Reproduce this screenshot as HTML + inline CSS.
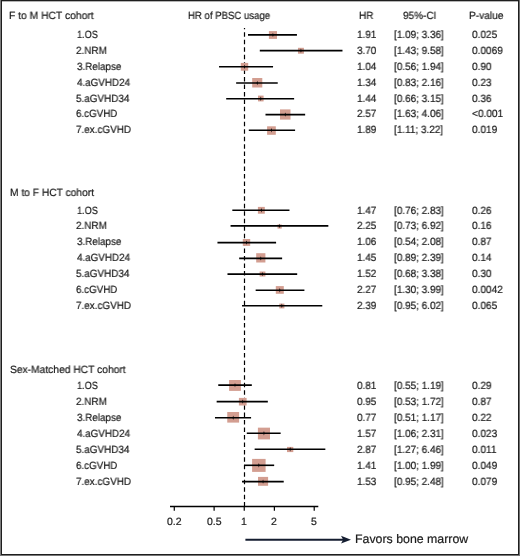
<!DOCTYPE html><html><head><meta charset="utf-8"><style>
html,body{margin:0;padding:0;background:#fff;}
body{width:520px;height:556px;position:relative;overflow:hidden;font-family:"Liberation Sans",sans-serif;}
.t{position:absolute;font-size:10.5px;line-height:30px;height:30px;white-space:pre;color:#1a1a1a;transform-origin:0 0;text-rendering:geometricPrecision;will-change:transform;-webkit-text-stroke:0.2px #1a1a1a;}
.f{position:absolute;}
</style></head><body>
<div class="f" style="left:0;top:0;width:1px;height:556px;background:#7c7c7c"></div>
<div class="f" style="left:519px;top:0;width:1px;height:556px;background:#707070"></div>
<div class="f" style="left:0;top:555px;width:520px;height:1px;background:#777"></div>
<div class="f" style="left:1px;top:0;width:516px;height:553px;border:1px solid #1e1e1e;"></div>
<div class="f" style="left:2px;top:1px;width:516px;height:1px;background:#b4b4b4"></div>
<svg class="f" style="left:0;top:0" width="520" height="556" viewBox="0 0 520 556"><line x1="244.5" y1="28" x2="244.5" y2="506.4" stroke="#000" stroke-width="1.2" stroke-dasharray="4.5 2.957" stroke-dashoffset="3.16"/><rect x="268.90" y="31.10" width="8.10" height="7.80" fill="#d39e91"/><line x1="248.00" y1="34.90" x2="296.94" y2="34.90" stroke="#000" stroke-width="1.6"/><path d="M272.95 32.70L273.60 34.90L272.95 37.10L272.30 34.90Z" fill="#000"/><rect x="297.96" y="47.80" width="5.94" height="5.90" fill="#d39e91"/><line x1="259.80" y1="50.65" x2="342.48" y2="50.65" stroke="#000" stroke-width="1.6"/><path d="M300.93 48.45L301.58 50.65L300.93 52.85L300.28 50.65Z" fill="#000"/><rect x="240.80" y="62.90" width="7.40" height="7.80" fill="#d39e91"/><line x1="219.04" y1="66.80" x2="273.06" y2="66.80" stroke="#000" stroke-width="1.6"/><path d="M244.50 64.60L245.15 66.80L244.50 69.00L243.85 66.80Z" fill="#000"/><rect x="252.20" y="78.00" width="10.10" height="9.50" fill="#d39e91"/><line x1="236.15" y1="83.00" x2="277.73" y2="83.00" stroke="#000" stroke-width="1.6"/><path d="M257.25 80.80L257.90 83.00L257.25 85.20L256.60 83.00Z" fill="#000"/><rect x="258.00" y="95.60" width="5.60" height="5.80" fill="#d39e91"/><line x1="226.19" y1="98.80" x2="294.13" y2="98.80" stroke="#000" stroke-width="1.6"/><path d="M260.80 96.60L261.45 98.80L260.80 101.00L260.15 98.80Z" fill="#000"/><rect x="280.00" y="109.40" width="10.50" height="10.20" fill="#d39e91"/><line x1="265.49" y1="114.60" x2="305.16" y2="114.60" stroke="#000" stroke-width="1.6"/><path d="M285.25 112.40L285.90 114.60L285.25 116.80L284.60 114.60Z" fill="#000"/><rect x="267.10" y="126.30" width="8.70" height="8.50" fill="#d39e91"/><line x1="248.79" y1="130.30" x2="295.09" y2="130.30" stroke="#000" stroke-width="1.6"/><path d="M271.45 128.10L272.10 130.30L271.45 132.50L270.80 130.30Z" fill="#000"/><rect x="257.90" y="206.90" width="6.90" height="6.80" fill="#d39e91"/><line x1="232.32" y1="210.20" x2="289.47" y2="210.20" stroke="#000" stroke-width="1.6"/><path d="M261.35 208.00L262.00 210.20L261.35 212.40L260.70 210.20Z" fill="#000"/><rect x="277.50" y="224.50" width="4.20" height="4.10" fill="#d39e91"/><line x1="230.57" y1="225.90" x2="328.34" y2="225.90" stroke="#000" stroke-width="1.6"/><path d="M279.60 223.70L280.25 225.90L279.60 228.10L278.95 225.90Z" fill="#000"/><rect x="242.80" y="239.00" width="7.40" height="6.90" fill="#d39e91"/><line x1="217.46" y1="242.60" x2="276.09" y2="242.60" stroke="#000" stroke-width="1.6"/><path d="M246.50 240.40L247.15 242.60L246.50 244.80L245.85 242.60Z" fill="#000"/><rect x="256.20" y="253.20" width="9.20" height="9.30" fill="#d39e91"/><line x1="239.18" y1="258.40" x2="282.13" y2="258.40" stroke="#000" stroke-width="1.6"/><path d="M260.80 256.20L261.45 258.40L260.80 260.60L260.15 258.40Z" fill="#000"/><rect x="259.60" y="271.50" width="5.80" height="5.00" fill="#d39e91"/><line x1="227.48" y1="274.10" x2="297.19" y2="274.10" stroke="#000" stroke-width="1.6"/><path d="M262.50 271.90L263.15 274.10L262.50 276.30L261.85 274.10Z" fill="#000"/><rect x="275.80" y="286.10" width="8.00" height="7.70" fill="#d39e91"/><line x1="255.66" y1="290.20" x2="304.41" y2="290.20" stroke="#000" stroke-width="1.6"/><path d="M279.80 288.00L280.45 290.20L279.80 292.40L279.15 290.20Z" fill="#000"/><rect x="279.30" y="303.60" width="5.10" height="4.80" fill="#d39e91"/><line x1="242.02" y1="305.80" x2="322.29" y2="305.80" stroke="#000" stroke-width="1.6"/><path d="M281.85 303.60L282.50 305.80L281.85 308.00L281.20 305.80Z" fill="#000"/><rect x="229.10" y="380.00" width="11.80" height="10.90" fill="#d39e91"/><line x1="218.26" y1="385.15" x2="251.81" y2="385.15" stroke="#000" stroke-width="1.6"/><path d="M235.00 382.95L235.65 385.15L235.00 387.35L234.35 385.15Z" fill="#000"/><rect x="238.90" y="397.90" width="7.70" height="7.60" fill="#d39e91"/><line x1="216.65" y1="401.60" x2="267.83" y2="401.60" stroke="#000" stroke-width="1.6"/><path d="M242.75 399.40L243.40 401.60L242.75 403.80L242.10 401.60Z" fill="#000"/><rect x="227.25" y="412.00" width="11.85" height="10.60" fill="#d39e91"/><line x1="214.98" y1="417.80" x2="251.08" y2="417.80" stroke="#000" stroke-width="1.6"/><path d="M233.18 415.60L233.83 417.80L233.18 420.00L232.53 417.80Z" fill="#000"/><rect x="257.90" y="427.65" width="12.10" height="11.75" fill="#d39e91"/><line x1="246.78" y1="433.30" x2="280.65" y2="433.30" stroke="#000" stroke-width="1.6"/><path d="M263.95 431.10L264.60 433.30L263.95 435.50L263.30 433.30Z" fill="#000"/><rect x="287.00" y="446.90" width="6.30" height="5.20" fill="#d39e91"/><line x1="254.64" y1="449.20" x2="325.35" y2="449.20" stroke="#000" stroke-width="1.6"/><path d="M290.15 447.00L290.80 449.20L290.15 451.40L289.50 449.20Z" fill="#000"/><rect x="252.10" y="458.90" width="13.50" height="13.00" fill="#d39e91"/><line x1="244.25" y1="465.30" x2="274.17" y2="465.30" stroke="#000" stroke-width="1.6"/><path d="M258.85 463.10L259.50 465.30L258.85 467.50L258.20 465.30Z" fill="#000"/><rect x="258.00" y="476.90" width="10.10" height="8.90" fill="#d39e91"/><line x1="242.02" y1="481.60" x2="283.73" y2="481.60" stroke="#000" stroke-width="1.6"/><path d="M263.05 479.40L263.70 481.60L263.05 483.80L262.40 481.60Z" fill="#000"/><line x1="170" y1="506.5" x2="318.3" y2="506.5" stroke="#000" stroke-width="1.3"/><line x1="174.28" y1="506" x2="174.28" y2="510.8" stroke="#000" stroke-width="1.2"/><line x1="214.12" y1="506" x2="214.12" y2="510.8" stroke="#000" stroke-width="1.2"/><line x1="244.25" y1="506" x2="244.25" y2="510.8" stroke="#000" stroke-width="1.2"/><line x1="274.38" y1="506" x2="274.38" y2="510.8" stroke="#000" stroke-width="1.2"/><line x1="314.22" y1="506" x2="314.22" y2="510.8" stroke="#000" stroke-width="1.2"/><line x1="245.4" y1="539.7" x2="344" y2="539.7" stroke="#141d30" stroke-width="2"/><path d="M341.0 535.8 L351.0 539.7 L341.0 543.6 L343.2 539.7 Z" fill="#141d30"/></svg>
<div class="t" style="left:9.47px;top:1.00px;transform:scaleX(0.982);">F to M HCT cohort</div>
<div class="t" style="left:76.61px;top:19.80px;transform:scaleX(0.870);">1.OS</div>
<div class="t" style="left:356.90px;top:19.80px;transform:scaleX(0.950);">1.91</div>
<div class="t" style="left:393.55px;top:19.80px;transform:scaleX(0.948);">[1.09; 3.36]</div>
<div class="t" style="left:472.10px;top:19.80px;transform:scaleX(0.960);">0.025</div>
<div class="t" style="left:76.21px;top:35.73px;transform:scaleX(0.945);">2.NRM</div>
<div class="t" style="left:356.90px;top:35.73px;transform:scaleX(0.950);">3.70</div>
<div class="t" style="left:393.55px;top:35.73px;transform:scaleX(0.948);">[1.43; 9.58]</div>
<div class="t" style="left:472.10px;top:35.73px;transform:scaleX(0.960);">0.0069</div>
<div class="t" style="left:76.71px;top:51.66px;transform:scaleX(0.938);">3.Relapse</div>
<div class="t" style="left:356.90px;top:51.66px;transform:scaleX(0.950);">1.04</div>
<div class="t" style="left:393.55px;top:51.66px;transform:scaleX(0.948);">[0.56; 1.94]</div>
<div class="t" style="left:472.10px;top:51.66px;transform:scaleX(0.960);">0.90</div>
<div class="t" style="left:76.74px;top:67.59px;transform:scaleX(0.937);">4.aGVHD24</div>
<div class="t" style="left:356.90px;top:67.59px;transform:scaleX(0.950);">1.34</div>
<div class="t" style="left:393.55px;top:67.59px;transform:scaleX(0.948);">[0.83; 2.16]</div>
<div class="t" style="left:472.10px;top:67.59px;transform:scaleX(0.960);">0.23</div>
<div class="t" style="left:76.13px;top:83.52px;transform:scaleX(0.944);">5.aGVHD34</div>
<div class="t" style="left:356.90px;top:83.52px;transform:scaleX(0.950);">1.44</div>
<div class="t" style="left:393.55px;top:83.52px;transform:scaleX(0.948);">[0.66; 3.15]</div>
<div class="t" style="left:472.10px;top:83.52px;transform:scaleX(0.960);">0.36</div>
<div class="t" style="left:76.20px;top:99.45px;transform:scaleX(0.932);">6.cGVHD</div>
<div class="t" style="left:356.90px;top:99.45px;transform:scaleX(0.950);">2.57</div>
<div class="t" style="left:393.55px;top:99.45px;transform:scaleX(0.948);">[1.63; 4.06]</div>
<div class="t" style="left:472.10px;top:99.45px;transform:scaleX(0.960);">&lt;0.001</div>
<div class="t" style="left:76.08px;top:115.38px;transform:scaleX(0.943);">7.ex.cGVHD</div>
<div class="t" style="left:356.90px;top:115.38px;transform:scaleX(0.950);">1.89</div>
<div class="t" style="left:393.55px;top:115.38px;transform:scaleX(0.948);">[1.11; 3.22]</div>
<div class="t" style="left:472.10px;top:115.38px;transform:scaleX(0.960);">0.019</div>
<div class="t" style="left:9.87px;top:178.40px;transform:scaleX(0.975);">M to F HCT cohort</div>
<div class="t" style="left:76.61px;top:195.50px;transform:scaleX(0.870);">1.OS</div>
<div class="t" style="left:356.90px;top:195.50px;transform:scaleX(0.950);">1.47</div>
<div class="t" style="left:393.55px;top:195.50px;transform:scaleX(0.948);">[0.76; 2.83]</div>
<div class="t" style="left:472.10px;top:195.50px;transform:scaleX(0.960);">0.26</div>
<div class="t" style="left:76.21px;top:211.37px;transform:scaleX(0.945);">2.NRM</div>
<div class="t" style="left:356.90px;top:211.37px;transform:scaleX(0.950);">2.25</div>
<div class="t" style="left:393.55px;top:211.37px;transform:scaleX(0.948);">[0.73; 6.92]</div>
<div class="t" style="left:472.10px;top:211.37px;transform:scaleX(0.960);">0.16</div>
<div class="t" style="left:76.71px;top:227.24px;transform:scaleX(0.938);">3.Relapse</div>
<div class="t" style="left:356.90px;top:227.24px;transform:scaleX(0.950);">1.06</div>
<div class="t" style="left:393.55px;top:227.24px;transform:scaleX(0.948);">[0.54; 2.08]</div>
<div class="t" style="left:472.10px;top:227.24px;transform:scaleX(0.960);">0.87</div>
<div class="t" style="left:76.74px;top:243.11px;transform:scaleX(0.937);">4.aGVHD24</div>
<div class="t" style="left:356.90px;top:243.11px;transform:scaleX(0.950);">1.45</div>
<div class="t" style="left:393.55px;top:243.11px;transform:scaleX(0.948);">[0.89; 2.39]</div>
<div class="t" style="left:472.10px;top:243.11px;transform:scaleX(0.960);">0.14</div>
<div class="t" style="left:76.13px;top:258.98px;transform:scaleX(0.944);">5.aGVHD34</div>
<div class="t" style="left:356.90px;top:258.98px;transform:scaleX(0.950);">1.52</div>
<div class="t" style="left:393.55px;top:258.98px;transform:scaleX(0.948);">[0.68; 3.38]</div>
<div class="t" style="left:472.10px;top:258.98px;transform:scaleX(0.960);">0.30</div>
<div class="t" style="left:76.20px;top:274.85px;transform:scaleX(0.932);">6.cGVHD</div>
<div class="t" style="left:356.90px;top:274.85px;transform:scaleX(0.950);">2.27</div>
<div class="t" style="left:393.55px;top:274.85px;transform:scaleX(0.948);">[1.30; 3.99]</div>
<div class="t" style="left:472.10px;top:274.85px;transform:scaleX(0.960);">0.0042</div>
<div class="t" style="left:76.08px;top:290.72px;transform:scaleX(0.943);">7.ex.cGVHD</div>
<div class="t" style="left:356.90px;top:290.72px;transform:scaleX(0.950);">2.39</div>
<div class="t" style="left:393.55px;top:290.72px;transform:scaleX(0.948);">[0.95; 6.02]</div>
<div class="t" style="left:472.10px;top:290.72px;transform:scaleX(0.960);">0.065</div>
<div class="t" style="left:9.87px;top:354.50px;transform:scaleX(0.978);">Sex-Matched HCT cohort</div>
<div class="t" style="left:76.61px;top:370.60px;transform:scaleX(0.870);">1.OS</div>
<div class="t" style="left:356.90px;top:370.60px;transform:scaleX(0.950);">0.81</div>
<div class="t" style="left:393.55px;top:370.60px;transform:scaleX(0.948);">[0.55; 1.19]</div>
<div class="t" style="left:472.10px;top:370.60px;transform:scaleX(0.960);">0.29</div>
<div class="t" style="left:76.21px;top:386.60px;transform:scaleX(0.945);">2.NRM</div>
<div class="t" style="left:356.90px;top:386.60px;transform:scaleX(0.950);">0.95</div>
<div class="t" style="left:393.55px;top:386.60px;transform:scaleX(0.948);">[0.53; 1.72]</div>
<div class="t" style="left:472.10px;top:386.60px;transform:scaleX(0.960);">0.87</div>
<div class="t" style="left:76.71px;top:402.60px;transform:scaleX(0.938);">3.Relapse</div>
<div class="t" style="left:356.90px;top:402.60px;transform:scaleX(0.950);">0.77</div>
<div class="t" style="left:393.55px;top:402.60px;transform:scaleX(0.948);">[0.51; 1.17]</div>
<div class="t" style="left:472.10px;top:402.60px;transform:scaleX(0.960);">0.22</div>
<div class="t" style="left:76.74px;top:418.60px;transform:scaleX(0.937);">4.aGVHD24</div>
<div class="t" style="left:356.90px;top:418.60px;transform:scaleX(0.950);">1.57</div>
<div class="t" style="left:393.55px;top:418.60px;transform:scaleX(0.948);">[1.06; 2.31]</div>
<div class="t" style="left:472.10px;top:418.60px;transform:scaleX(0.960);">0.023</div>
<div class="t" style="left:76.13px;top:434.60px;transform:scaleX(0.944);">5.aGVHD34</div>
<div class="t" style="left:356.90px;top:434.60px;transform:scaleX(0.950);">2.87</div>
<div class="t" style="left:393.55px;top:434.60px;transform:scaleX(0.948);">[1.27; 6.46]</div>
<div class="t" style="left:472.10px;top:434.60px;transform:scaleX(0.960);">0.011</div>
<div class="t" style="left:76.20px;top:450.60px;transform:scaleX(0.932);">6.cGVHD</div>
<div class="t" style="left:356.90px;top:450.60px;transform:scaleX(0.950);">1.41</div>
<div class="t" style="left:393.55px;top:450.60px;transform:scaleX(0.948);">[1.00; 1.99]</div>
<div class="t" style="left:472.10px;top:450.60px;transform:scaleX(0.960);">0.049</div>
<div class="t" style="left:76.08px;top:466.60px;transform:scaleX(0.943);">7.ex.cGVHD</div>
<div class="t" style="left:356.90px;top:466.60px;transform:scaleX(0.950);">1.53</div>
<div class="t" style="left:393.55px;top:466.60px;transform:scaleX(0.948);">[0.95; 2.48]</div>
<div class="t" style="left:472.10px;top:466.60px;transform:scaleX(0.960);">0.079</div>
<div class="t" style="left:188.02px;top:1.00px;transform:scaleX(0.914);">HR of PBSC usage</div>
<div class="t" style="left:358.89px;top:1.00px;transform:scaleX(0.955);">HR</div>
<div class="t" style="left:403.00px;top:1.00px;transform:scaleX(0.954);">95%-CI</div>
<div class="t" style="left:469.28px;top:1.00px;transform:scaleX(0.968);">P-value</div>
<div class="t" style="left:167.18px;top:506.60px;">0.2</div>
<div class="t" style="left:206.97px;top:506.60px;">0.5</div>
<div class="t" style="left:241.17px;top:506.60px;">1</div>
<div class="t" style="left:271.44px;top:506.60px;">2</div>
<div class="t" style="left:311.17px;top:506.60px;">5</div>
<div class="t" style="left:354.52px;top:521.63px;font-size:12.35px;line-height:35.29px;height:35.29px;">Favors bone marrow</div>
</body></html>
